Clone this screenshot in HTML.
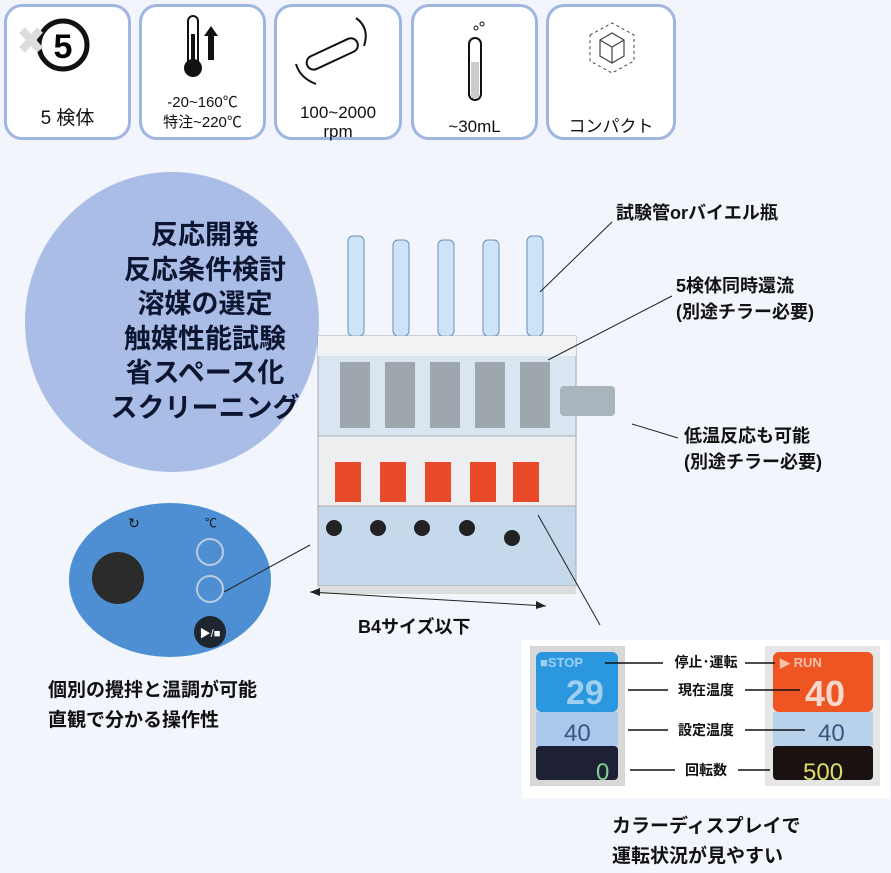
<!DOCTYPE html>
<html><head><meta charset="utf-8"><style>
body{margin:0;width:891px;height:873px;background:#f3f5fd;position:relative;overflow:hidden;font-family:"Liberation Sans","Noto Sans CJK JP",sans-serif;color:#111}
.b{position:absolute;top:4px;height:136px;border:3px solid #9fb5e2;border-radius:18px;background:#fff;box-sizing:border-box;text-align:center}
.b .t{position:absolute;left:0;right:0;font-size:17px;line-height:20px}
.a{position:absolute;font-size:18px;font-weight:bold;line-height:26px;white-space:nowrap}
svg{position:absolute;left:0;top:0}
</style></head><body>
<div class="b" style="left:4px;width:127px"><div class="t" style="top:102px;font-size:19px">5 検体</div></div>
<div class="b" style="left:139px;width:127px"><div class="t" style="top:86px;font-size:15px">-20~160℃<br>特注~220℃</div></div>
<div class="b" style="left:274px;width:128px"><div class="t" style="top:96px;font-size:17px;line-height:19px">100~2000<br>rpm</div></div>
<div class="b" style="left:411px;width:127px"><div class="t" style="top:110px">~30mL</div></div>
<div class="b" style="left:546px;width:130px"><div class="t" style="top:110px">コンパクト</div></div>
<svg width="891" height="873">
<circle cx="63" cy="45" r="24" fill="none" stroke="#111" stroke-width="5"/>
<text x="63" y="58" font-size="34" font-weight="bold" text-anchor="middle" font-family="Liberation Sans">5</text>
<path d="M22 30 L40 50 M40 30 L22 50" stroke="#ddd" stroke-width="8"/>
<rect x="188" y="16" width="10" height="50" rx="5" fill="none" stroke="#111" stroke-width="2"/><rect x="191" y="34" width="4" height="32" fill="#111"/><circle cx="193" cy="68" r="9" fill="#111"/>
<path d="M208 60 V36 h-4 l7-10 7 10 h-4 V60z" fill="#111"/>
<g transform="rotate(-25 330 55)"><rect x="305" y="48" width="55" height="14" rx="7" fill="none" stroke="#111" stroke-width="2"/></g>
<path d="M356 18 q14 10 8 28 M296 64 q4 14 20 20" fill="none" stroke="#111" stroke-width="2"/>
<rect x="469" y="38" width="12" height="62" rx="6" fill="none" stroke="#111" stroke-width="2"/><rect x="471" y="62" width="8" height="36" fill="#ccc"/>
<circle cx="476" cy="28" r="2" fill="none" stroke="#111"/><circle cx="482" cy="24" r="2" fill="none" stroke="#111"/>
<path d="M600 40 l12-7 12 7 v16 l-12 7 -12-7z M600 40 l12 7 12-7 M612 47 v16" fill="none" stroke="#444" stroke-width="1.2"/>
<path d="M590 35 l22-12 22 12 v26 l-22 12 -22-12z" fill="none" stroke="#444" stroke-dasharray="3 3"/>
<ellipse cx="172" cy="322" rx="147" ry="150" fill="#a9bde6"/>
<rect x="348" y="236" width="16" height="100" rx="5" fill="#cde3f6" stroke="#6a8fb8"/>
<rect x="393" y="240" width="16" height="96" rx="5" fill="#cde3f6" stroke="#6a8fb8"/>
<rect x="438" y="240" width="16" height="96" rx="5" fill="#cde3f6" stroke="#6a8fb8"/>
<rect x="483" y="240" width="16" height="96" rx="5" fill="#cde3f6" stroke="#6a8fb8"/>
<rect x="527" y="236" width="16" height="100" rx="5" fill="#cde3f6" stroke="#6a8fb8"/>
<rect x="318" y="336" width="258" height="100" fill="#d9e6f2" stroke="#9aaabb"/>
<rect x="318" y="336" width="258" height="20" fill="#f0f2f4"/>
<g fill="#9ea6ae"><rect x="340" y="362" width="30" height="66"/><rect x="385" y="362" width="30" height="66"/><rect x="430" y="362" width="30" height="66"/><rect x="475" y="362" width="30" height="66"/><rect x="520" y="362" width="30" height="66"/></g>
<rect x="560" y="386" width="55" height="30" rx="4" fill="#aab4bc"/>
<rect x="318" y="436" width="258" height="70" fill="#eceef0" stroke="#aaa"/>
<g><rect x="335" y="462" width="26" height="40" fill="#e84a2a"/><rect x="380" y="462" width="26" height="40" fill="#e84a2a"/><rect x="425" y="462" width="26" height="40" fill="#e84a2a"/><rect x="470" y="462" width="26" height="40" fill="#e84a2a"/><rect x="513" y="462" width="26" height="40" fill="#e84a2a"/></g>
<rect x="318" y="506" width="258" height="80" fill="#c5d8ec" stroke="#aaa"/>
<g fill="#222"><circle cx="334" cy="528" r="8"/><circle cx="378" cy="528" r="8"/><circle cx="422" cy="528" r="8"/><circle cx="467" cy="528" r="8"/><circle cx="512" cy="538" r="8"/></g>
<rect x="318" y="586" width="258" height="8" fill="#ddd"/>
<ellipse cx="170" cy="580" rx="101" ry="77" fill="#4d8fd2"/>
<circle cx="118" cy="578" r="26" fill="#2a2a2a"/>
<circle cx="210" cy="552" r="13" fill="none" stroke="#bcd" stroke-width="2"/>
<circle cx="210" cy="589" r="13" fill="none" stroke="#bcd" stroke-width="2"/>
<circle cx="210" cy="632" r="16" fill="#1e2630"/>
<text x="210" y="637" font-size="11" fill="#fff" text-anchor="middle">▶/■</text>
<text x="128" y="528" font-size="14" fill="#111">↻</text><text x="205" y="527" font-size="12" fill="#111">℃</text>
<g stroke="#222" stroke-width="1" fill="none">
<line x1="612" y1="222" x2="540" y2="292"/>
<line x1="672" y1="296" x2="548" y2="360"/>
<line x1="678" y1="438" x2="632" y2="424"/>
<line x1="224" y1="592" x2="310" y2="545"/>
<line x1="538" y1="515" x2="600" y2="625"/>
<line x1="310" y1="592" x2="546" y2="606"/>
</g>
<path d="M310 592 l10 -4 0 8z M546 606 l-10 -5 0 8z" fill="#222"/>
<rect x="522" y="640" width="368" height="158" fill="#fff"/>
<rect x="530" y="646" width="95" height="140" fill="#d8d8d8"/>
<rect x="536" y="652" width="82" height="60" rx="6" fill="#2a97de"/><rect x="536" y="712" width="82" height="34" fill="#a8c8ec"/><rect x="536" y="746" width="82" height="34" rx="4" fill="#1e2135"/>
<rect x="765" y="646" width="115" height="140" fill="#e6e6e6"/>
<rect x="773" y="652" width="100" height="60" rx="6" fill="#ee5522"/><rect x="773" y="712" width="100" height="34" fill="#b9d2ec"/><rect x="773" y="746" width="100" height="34" rx="4" fill="#1a1210"/>
<g font-family="Liberation Sans" font-weight="bold">
<text x="540" y="667" font-size="13" fill="#9fd0f2">■STOP</text><text x="566" y="704" font-size="34" fill="#9fd0f2">29</text>
<text x="564" y="741" font-size="24" fill="#3c5480" font-weight="normal">40</text><text x="596" y="780" font-size="24" fill="#7ed08e" font-weight="normal">0</text>
<text x="780" y="667" font-size="13" fill="#f6c0a8">▶ RUN</text><text x="805" y="706" font-size="36" fill="#f6d8cc">40</text>
<text x="818" y="741" font-size="24" fill="#3c5480" font-weight="normal">40</text><text x="803" y="780" font-size="24" fill="#e0dc6a" font-weight="normal">500</text>
</g>
<g font-size="14" font-family="Liberation Sans,Noto Sans CJK JP" fill="#111" text-anchor="middle" font-weight="bold">
<text x="706" y="667">停止･運転</text><text x="706" y="695">現在温度</text><text x="706" y="735">設定温度</text><text x="706" y="775">回転数</text>
</g>
<g stroke="#111" stroke-width="1.5"><line x1="605" y1="663" x2="663" y2="663"/><line x1="745" y1="663" x2="775" y2="663"/><line x1="628" y1="690" x2="668" y2="690"/><line x1="745" y1="690" x2="800" y2="690"/><line x1="628" y1="730" x2="668" y2="730"/><line x1="745" y1="730" x2="805" y2="730"/><line x1="630" y1="770" x2="675" y2="770"/><line x1="738" y1="770" x2="770" y2="770"/></g>
</svg>
<div class="a" style="left:55px;width:300px;top:218px;text-align:center;font-size:27px;line-height:34.5px;color:#0d1530">反応開発<br>反応条件検討<br>溶媒の選定<br>触媒性能試験<br>省スペース化<br>スクリーニング</div>
<div class="a" style="left:616px;top:200px">試験管orバイエル瓶</div>
<div class="a" style="left:676px;top:273px">5検体同時還流<br>(別途チラー必要)</div>
<div class="a" style="left:684px;top:423px">低温反応も可能<br>(別途チラー必要)</div>
<div class="a" style="left:358px;top:614px">B4サイズ以下</div>
<div class="a" style="left:48px;top:676px;font-size:19px;line-height:30px">個別の攪拌と温調が可能<br>直観で分かる操作性</div>
<div class="a" style="left:612px;top:812px;font-size:19px;line-height:30px">カラーディスプレイで<br>運転状況が見やすい</div>
</body></html>
